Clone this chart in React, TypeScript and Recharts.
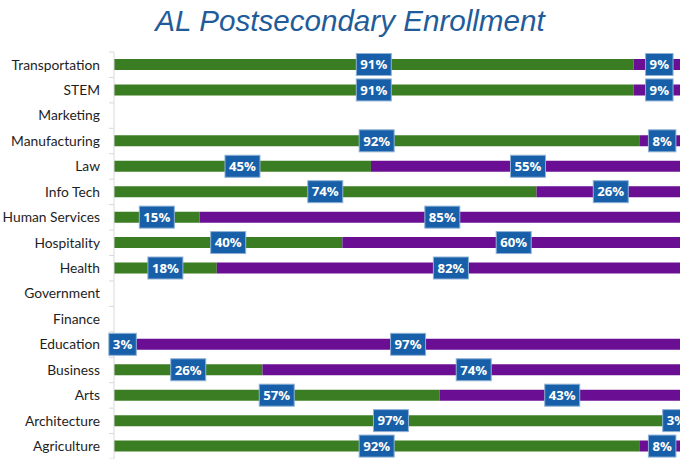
import React from 'react';
import { BarChart, Bar, XAxis, YAxis, LabelList } from 'recharts';

const categories = [
  'Transportation', 'STEM', 'Marketing', 'Manufacturing', 'Law', 'Info Tech',
  'Human Services', 'Hospitality', 'Health', 'Government', 'Finance',
  'Education', 'Business', 'Arts', 'Architecture', 'Agriculture',
];
const greenShare = [91, 91, 0, 92, 45, 74, 15, 40, 18, 0, 0, 3, 26, 57, 97, 92];
const purpleShare = [9, 9, 0, 8, 55, 26, 85, 60, 82, 0, 0, 97, 74, 43, 3, 8];

const data = categories.map((name, i) => ({
  name,
  green: greenShare[i],
  purple: purpleShare[i],
}));

const GREEN = '#3b7d23';
const PURPLE = '#6a0f93';
const BOX = '#175fa8';
const TICK_GAP = 14;

const CategoryTick = (props: any) => {
  const { x, y, payload, index, visibleTicksCount } = props;
  const half = payload.offset ?? 12.7;
  const axisX = x + TICK_GAP;
  return (
    <g>
      <line x1={axisX - 5} x2={axisX} y1={y - half} y2={y - half} stroke="#d9d9d9" />
      {index === visibleTicksCount - 1 && (
        <line x1={axisX - 5} x2={axisX} y1={y + half} y2={y + half} stroke="#d9d9d9" />
      )}
      <text x={x} y={y} dy={4.8} textAnchor="end" fill="#1e1e1e"
        style={{ fontFamily: 'Lato, sans-serif', fontSize: 13.8 }}>
        {payload.value}
      </text>
    </g>
  );
};

const PctLabel = (props: any) => {
  const { x, y, width, height, value } = props;
  if (!value) return null;
  const txt = `${value}%`;
  const w = String(value).length * 7.5 + 20;
  const h = 22;
  const cx = x + width / 2;
  const cy = y + height / 2;
  return (
    <g>
      <rect x={cx - w / 2} y={cy - h / 2} width={w} height={h} fill={BOX} stroke="#8fb2d6" strokeWidth={1} />
      <text x={cx} y={cy} dy={4.8} textAnchor="middle" fill="#fff"
        style={{ fontFamily: '"Open Sans", sans-serif', fontSize: 13.2, fontWeight: 700 }}>
        {txt}
      </text>
    </g>
  );
};

export default function App() {
  return (
    <div style={{ position: 'absolute', left: 0, top: 0, width: 680, height: 459, overflow: 'hidden', background: '#fff' }}>
      <div style={{
        position: 'absolute', left: 0, width: 700, top: 4, textAlign: 'center',
        fontFamily: '"Liberation Sans", Arial, sans-serif', fontStyle: 'italic',
        fontSize: 29.6, color: '#1f5c99',
      }}>
        AL Postsecondary Enrollment
      </div>
      <BarChart
        width={700}
        height={459}
        data={data}
        layout="vertical"
        barSize={11}
        margin={{ top: 52, right: 15, left: 0, bottom: 0 }}
      >
        <XAxis type="number" domain={[0, 100]} hide />
        <YAxis
          type="category"
          dataKey="name"
          width={114}
          tickLine={false}
          tickSize={0}
          tickMargin={TICK_GAP}
          axisLine={{ stroke: '#d9d9d9' }}
          interval={0}
          tick={<CategoryTick />}
        />
        <Bar dataKey="green" stackId="a" fill={GREEN} isAnimationActive={false}>
          <LabelList dataKey="green" content={<PctLabel />} />
        </Bar>
        <Bar dataKey="purple" stackId="a" fill={PURPLE} isAnimationActive={false}>
          <LabelList dataKey="purple" content={<PctLabel />} />
        </Bar>
      </BarChart>
    </div>
  );
}
